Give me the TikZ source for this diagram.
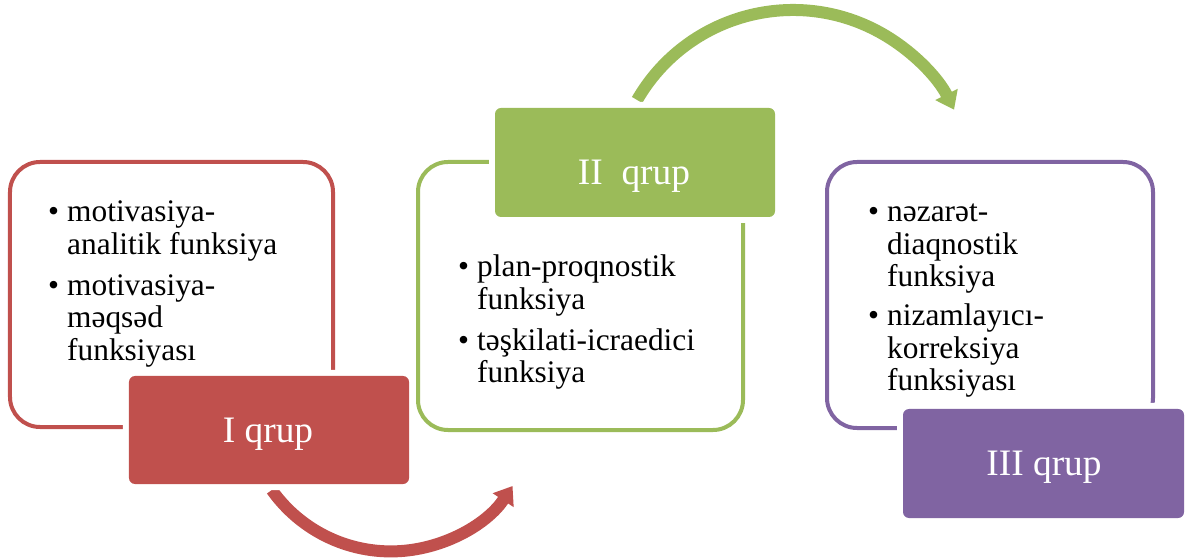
\documentclass[tikz,border=0pt]{standalone}
\usepackage{fontspec}
\setmainfont{Liberation Serif}
\newfontfamily\grpserif{Liberation Serif}
\usetikzlibrary{arrows.meta}

\definecolor{grpred}{HTML}{C0504D}
\definecolor{grpgreen}{HTML}{9BBB59}
\definecolor{grppurple}{HTML}{8064A2}

\newcommand\bodysize{\grpserif\fontsize{31.5}{32.5}\selectfont}
\newcommand\tabsize{\grpserif\fontsize{37.5}{40}\selectfont}
\newcommand\itemline[1]{\makebox[19bp][l]{\textbullet}#1}
\newcommand\contline[1]{\hspace*{19bp}#1}

\tikzset{
  frame/.style={draw=#1, line width=4bp, rounded corners=30bp, inner sep=0, fill=white},
  tab/.style={fill=#1, rounded corners=6bp, inner sep=0,
              preaction={draw=white, line width=12bp}},
  tabtext/.style={text=white, font=\tabsize, inner sep=0, anchor=base},
  bullets/.style={anchor=base west, inner sep=0, font=\bodysize},
  swoop/.style={draw=#1, line width=12bp, line cap=butt,
                -{Triangle[length=17bp,width=24bp]}},
}

\begin{document}
\begin{tikzpicture}[x=1bp,y=-1bp]
  \useasboundingbox (0,0) rectangle (1192,560);

  % curved arrows between the groups
  \coordinate (redstart) at (271.8,490);
  \coordinate (greenstart) at (637.1,100);
  \draw[swoop=grpred] (redstart) arc[start angle=144.6, end angle=33.5, radius=146];
  \draw[swoop=grpgreen] (greenstart) arc[start angle=-150, end angle=-26.5, radius=180];

  % outlined frames
  \node[frame=grpred,    minimum width=323bp, minimum height=265bp] (frame1) at (171.5,294.5) {};
  \node[frame=grpgreen,  minimum width=325bp, minimum height=268bp] (frame2) at (580.5,296) {};
  \node[frame=grppurple, minimum width=326bp, minimum height=266bp] (frame3) at (990,295) {};

  % filled tabs
  \node[tab=grpred,    minimum width=280bp, minimum height=108bp] (tab1) at (269,430) {};
  \node[tab=grpgreen,  minimum width=280bp, minimum height=109bp] (tab2) at (635,162.5) {};
  \node[tab=grppurple, minimum width=281bp, minimum height=109bp] (tab3) at (1043.5,463.5) {};

  \node[tabtext] (title1) at (268,442) {I qrup};
  \node[tabtext] (title2) at (634,185) {II\ \ qrup};
  \node[tabtext] (title3) at (1044,475) {III qrup};

  % bullet lists
  \node[bullets] (list1) at (48,222) {\bodysize
    \begin{tabular}[t]{@{}l@{}}
      \itemline{motivasiya-}\\
      \contline{analitik funksiya}\\[8.5bp]
      \itemline{motivasiya-}\\
      \contline{məqsəd}\\
      \contline{funksiyası}
    \end{tabular}};
  \node[bullets] (list2) at (458,277) {\bodysize
    \begin{tabular}[t]{@{}l@{}}
      \itemline{plan-proqnostik}\\
      \contline{funksiya}\\[8.5bp]
      \itemline{təşkilati-icraedici}\\
      \contline{funksiya}
    \end{tabular}};
  \node[bullets] (list3) at (868,222) {\bodysize
    \begin{tabular}[t]{@{}l@{}}
      \itemline{nəzarət-}\\
      \contline{diaqnostik}\\
      \contline{funksiya}\\[6.5bp]
      \itemline{nizamlayıcı-}\\
      \contline{korreksiya}\\
      \contline{funksiyası}
    \end{tabular}};
\end{tikzpicture}
\end{document}
